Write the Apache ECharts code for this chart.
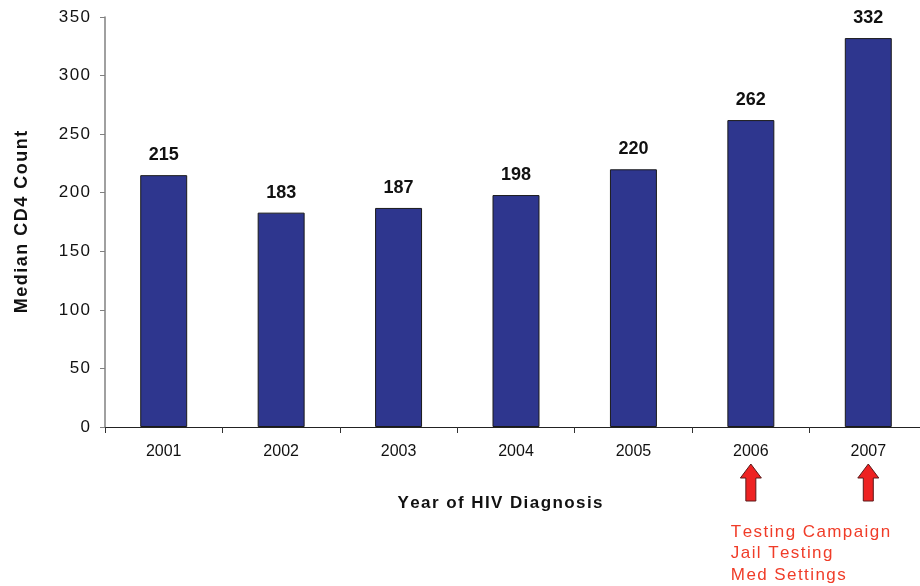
<!DOCTYPE html>
<html>
<head>
<meta charset="utf-8">
<script src="https://cdn.jsdelivr.net/npm/echarts@6/dist/echarts.min.js"></script>
<style>
html,body{margin:0;padding:0;background:#fff;overflow:hidden;}
#chart{width:930px;height:586px;}
</style>
</head>
<body>
<div id="chart"></div>
<script>
const years = ['2001','2002','2003','2004','2005','2006','2007'];
const medianCD4 = [215, 183, 187, 198, 220, 262, 332];
const yTicks = [0, 50, 100, 150, 200, 250, 300, 350];
const arrowYears = ['2006', '2007'];
const noteLines = ['Testing Campaign', 'Jail Testing', 'Med Settings'];

const chart = echarts.init(document.getElementById('chart'));
const FONT = '"Liberation Sans", Arial, sans-serif';
function spaced(s) { return String(s).split('').join('\u200A'); }

chart.setOption({
  animation: false,
  backgroundColor: '#ffffff',
  grid: { left: 105, top: 17, width: 822, height: 410 },
  xAxis: {
    type: 'category',
    data: years,
    axisLine: { lineStyle: { color: '#222', width: 1 } },
    axisTick: { show: true, length: 6, lineStyle: { color: '#333' } },
    axisLabel: { color: '#111', fontFamily: FONT, fontSize: 16, margin: 17 }
  },
  yAxis: {
    type: 'value',
    min: yTicks[0],
    max: yTicks[yTicks.length - 1],
    interval: 50,
    name: spaced('Median CD4 Count'),
    nameLocation: 'middle',
    nameGap: 74,
    nameTextStyle: { color: '#111', fontFamily: FONT, fontSize: 18, fontWeight: 'bold' },
    splitLine: { show: false },
    axisLine: { show: true, lineStyle: { color: '#808080', width: 1.5 } },
    axisTick: { show: true, length: 5, lineStyle: { color: '#808080' } },
    axisLabel: { color: '#111', fontFamily: FONT, fontSize: 17, margin: 15, formatter: function (v) { return spaced(v); } }
  },
  series: [{
    type: 'bar',
    data: medianCD4,
    barWidth: '40%',
    itemStyle: { color: '#2E368E', borderColor: '#1a1a1a', borderWidth: 1 },
    label: {
      show: true,
      position: 'top',
      distance: 11,
      color: '#111',
      fontFamily: FONT,
      fontSize: 18,
      fontWeight: 'bold'
    }
  }]
});

function addAnnotations() {
  const elements = [];
  elements.push({
    type: 'text',
    x: 500, y: 503,
    style: {
      text: spaced('Year of HIV Diagnosis'),
      fill: '#111',
      font: 'bold 17px ' + FONT,
      align: 'center',
      verticalAlign: 'middle'
    }
  });
  const yBase = chart.convertToPixel({ yAxisIndex: 0 }, 0);
  arrowYears.forEach(function (yr) {
    const cx = chart.convertToPixel({ xAxisIndex: 0 }, yr);
    const top = yBase + 37, bottom = yBase + 74;
    const hw = 10.5, sw = 5, headH = 14;
    elements.push({
      type: 'polygon',
      shape: {
        points: [
          [cx, top], [cx + hw, top + headH], [cx + sw, top + headH],
          [cx + sw, bottom], [cx - sw, bottom], [cx - sw, top + headH],
          [cx - hw, top + headH]
        ]
      },
      style: { fill: '#EE2222', stroke: '#5a1a1a', lineWidth: 1 }
    });
  });
  const cx2006 = chart.convertToPixel({ xAxisIndex: 0 }, arrowYears[0]);
  noteLines.forEach(function (line, i) {
    elements.push({
      type: 'text',
      x: cx2006 - 20, y: yBase + 105 + i * 21.7,
      style: {
        text: spaced(line),
        fill: '#F03C28',
        font: '17px ' + FONT,
        align: 'left',
        verticalAlign: 'middle'
      }
    });
  });
  chart.setOption({ graphic: elements });
}
addAnnotations();
</script>
</body>
</html>
